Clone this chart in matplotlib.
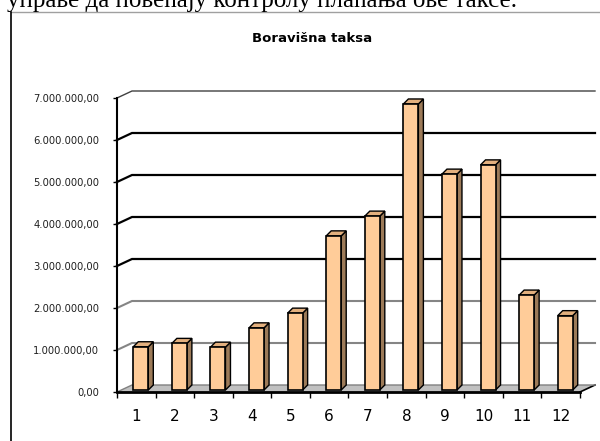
import numpy as np
import matplotlib
matplotlib.use("Agg")
import matplotlib.pyplot as plt
from matplotlib.patches import Polygon
from matplotlib.lines import Line2D
from matplotlib.ticker import FuncFormatter, FixedLocator

# ---- data ----
months = ["1", "2", "3", "4", "5", "6", "7", "8", "9", "10", "11", "12"]
values = [1.03e6, 1.11e6, 1.02e6, 1.48e6, 1.83e6, 3.67e6,
          4.14e6, 6.81e6, 5.14e6, 5.36e6, 2.26e6, 1.77e6]
y_ticks = [0, 1e6, 2e6, 3e6, 4e6, 5e6, 6e6, 7e6]
title = "Boravišna taksa"
top_text = "управе да повећају контролу плаћања ове таксе."

W, H, DPI = 600, 441, 100
fig = plt.figure(figsize=(W / DPI, H / DPI), dpi=DPI)
fig.patch.set_facecolor("white")

# axes placed at the front plane of the 3D-look chart
L, R, B, T = 117, 580, 392, 98
ax = fig.add_axes([L / W, (H - B) / H, (R - L) / W, (B - T) / H])
ax.set_xlim(0, 12)
ax.set_ylim(0, 7e6)
ax.patch.set_alpha(0)

pxx = 12 / (R - L)          # data units per pixel (x)
pxy = 7e6 / (B - T)         # data units per pixel (y)
dx, dy = 15 * pxx, 7 * pxy  # wall depth
bdx, bdy = 5 * pxx, 5 * pxy  # bar depth
base = 2 * pxy               # bar sits slightly behind front edge
x_off = 16.3 * pxx
bw = 15 * pxx

# floor
floor = Polygon([(0, 0), (12, 0), (12 + dx, dy), (dx, dy)], closed=True,
                facecolor="#c0c0c0", edgecolor="none", zorder=1, clip_on=False)
ax.add_patch(floor)
ax.add_line(Line2D([12, 12 + dx], [0, dy], color="black", lw=1.2, zorder=1.5, clip_on=False))

# gridlines on side and back wall
for v in y_ticks:
    if v == 0:
        col, lw = "#808080", 1.0
    elif v <= 2e6:
        col, lw = "#858585", 1.5
    elif v == 7e6:
        col, lw = "#404040", 1.0
    else:
        col, lw = "black", 1.6
    ax.add_line(Line2D([0, dx, 12 + dx], [v, v + dy, v + dy], color=col, lw=lw,
                       zorder=2, clip_on=False, solid_joinstyle="miter"))

# bars
pos = np.arange(len(months))
front_c, side_c, top_c = "#ffcc99", "#9c7a58", "#e3b07e"
ax.bar(pos + x_off, values, width=bw, bottom=base, align="edge",
       color=front_c, edgecolor="black", linewidth=1.2, zorder=4)
for p, v in zip(pos, values):
    x0 = p + x_off
    x1 = x0 + bw
    yb = base
    yt = base + v
    side = Polygon([(x1, yb), (x1 + bdx, yb + bdy), (x1 + bdx, yt + bdy), (x1, yt)],
                   closed=True, facecolor=side_c, edgecolor="black", lw=1.0,
                   zorder=3, clip_on=False)
    top = Polygon([(x0, yt), (x1, yt), (x1 + bdx, yt + bdy), (x0 + bdx, yt + bdy)],
                  closed=True, facecolor=top_c, edgecolor="black", lw=1.0,
                  zorder=3, clip_on=False)
    ax.add_patch(side)
    ax.add_patch(top)

# spines
for s in ["top", "right"]:
    ax.spines[s].set_visible(False)
ax.spines["left"].set_linewidth(1.5)
ax.spines["bottom"].set_linewidth(2.0)
ax.spines["left"].set_zorder(5)
ax.spines["bottom"].set_zorder(5)

# y axis
ax.yaxis.set_major_locator(FixedLocator(y_ticks))

def fmt(v, _):
    s = f"{int(round(v)):,}".replace(",", ".")
    return s + ",00"

ax.yaxis.set_major_formatter(FuncFormatter(fmt))
ax.tick_params(axis="y", direction="out", length=3, width=1, pad=10,
               labelsize=7.2, labelcolor="#202020")

# x axis
ax.xaxis.set_major_locator(FixedLocator(np.arange(0, 13)))
ax.xaxis.set_major_formatter(FuncFormatter(lambda v, _: ""))
ax.xaxis.set_minor_locator(FixedLocator(pos + 0.5))
ax.xaxis.set_minor_formatter(FuncFormatter(lambda v, i: months[i]))
ax.tick_params(axis="x", which="major", direction="out", length=4, width=1)
ax.tick_params(axis="x", which="minor", length=0, pad=12, labelsize=11)

# title
fig.text(312 / W, 1 - 38 / H, title, ha="center", va="center",
         fontsize=9.5, fontweight="bold", family="DejaVu Sans")

# chart frame
fig.add_artist(Line2D([11 / W, 1.0], [1 - 12 / H, 1 - 12 / H],
                      transform=fig.transFigure, color="#a0a0a0", lw=1))
fig.add_artist(Line2D([11 / W, 11 / W], [0, 1 - 12 / H],
                      transform=fig.transFigure, color="black", lw=1.2))

# cut-off document text above the chart
fig.text(517 / W, 1 - 7 / H, top_text, ha="right", va="baseline",
         fontsize=18, family="Liberation Serif")

fig.savefig("out.png", dpi=DPI)
